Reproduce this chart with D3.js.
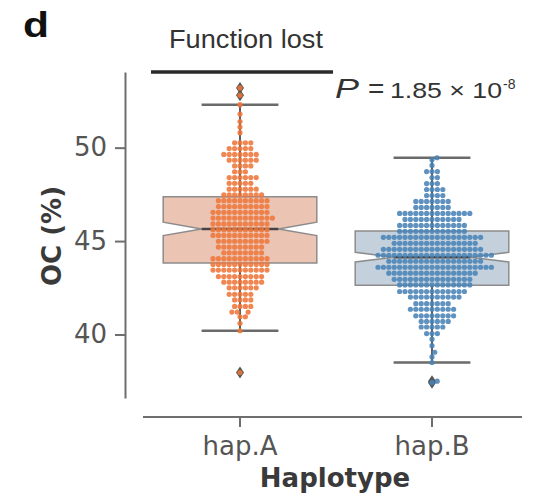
<!DOCTYPE html>
<html>
<head>
<meta charset="utf-8">
<script src="https://cdn.jsdelivr.net/npm/d3@7"></script>
<style>
  body { margin: 0; background: #fff; }
  svg { display: block; }
</style>
</head>
<body>
<svg width="538" height="497"></svg>
<script>
var groups = ["hap.A", "hap.B"];

// OC (%) levels of the swarm rows and how many plants sit in each row
var hapAValues = [40.2, 40.6, 40.95, 41.2, 41.5, 41.85, 42.15, 42.5, 42.8, 43.1, 43.45, 43.75, 44.06, 44.37,
  44.68, 44.99, 45.3, 45.61, 45.92, 46.23, 46.54, 46.85, 47.16, 47.47, 47.78, 48.09, 48.4, 48.71, 49.02, 49.33,
  49.64, 49.95, 50.26, 50.8, 51.1, 51.4, 51.8, 52.3];
var hapACounts = [1, 1, 2, 3, 4, 4, 5, 6, 8, 9, 11, 11, 11, 8,
  9, 10, 11, 11, 11, 12, 11, 10, 10, 8, 6, 5, 6, 3, 4, 6,
  7, 5, 4, 1, 1, 1, 1, 1];

var hapBValues = [38.5, 38.8, 39.05, 39.4, 39.75, 40.05, 40.4, 40.7, 41.0, 41.35, 41.65, 42.0, 42.3, 42.65,
  42.95, 43.28, 43.6, 43.92, 44.24, 44.56, 44.88, 45.2, 45.52, 45.84, 46.16, 46.48, 46.8, 47.12, 47.44, 47.76,
  48.08, 48.4, 48.72, 49.05, 49.35, 49.46];
var hapBCounts = [1, 1, 1, 1, 1, 3, 5, 6, 8, 9, 7, 10, 13, 14,
  15, 17, 22, 18, 22, 19, 16, 19, 13, 13, 11, 14, 7, 7, 4, 4,
  3, 2, 3, 1, 1, 1];

// box stats: [low whisker, Q1, median, Q3, high whisker]
var hapABox = [40.2, 43.82, 45.65, 47.37, 52.3];
var hapBBox = [38.5, 42.63, 44.14, 45.54, 49.46];
var hapAOutliers = [53.2, 52.8, 37.96];
var hapBOutliers = [37.5, 37.42];

var yTicks = [40, 45, 50];
var pointColors = ["#ee763a", "#4a83b6"];
var boxColors = ["#ecc4b4", "#c4d1dd"];

var svg = d3.select("svg");
var y = d3.scaleLinear().domain([36.6, 54.05]).range([398, 72]);
var x = d3.scaleBand().domain(groups).range([144, 528]);
var boxW = x.bandwidth() * 0.8;

var groupData = [
  { name: "hap.A", values: hapAValues, counts: hapACounts, box: hapABox, out: hapAOutliers },
  { name: "hap.B", values: hapBValues, counts: hapBCounts, box: hapBBox, out: hapBOutliers }
];

// expand rows into single points
groupData.forEach(function(g) {
  var pts = [];
  for (var i = 0; i < g.values.length; i++) {
    for (var k = 0; k < g.counts[i]; k++) pts.push(g.values[i]);
  }
  g.out.forEach(function(v) { pts.push(v); });
  pts.sort(function(a, b) { return a - b; });
  g.points = pts;
});

// axes
var yAxis = svg.append("g")
  .attr("transform", "translate(125,0)")
  .call(d3.axisLeft(y).tickValues(yTicks).tickSize(10).tickSizeOuter(0).tickPadding(8));
yAxis.select(".domain").attr("stroke", "#6e6e6e").attr("stroke-width", 2);
yAxis.selectAll(".tick line").attr("stroke", "#6e6e6e").attr("stroke-width", 2);
yAxis.selectAll(".tick text")
  .attr("fill", "#555").style("font-family", "DejaVu Sans").style("font-size", "26px");

var xAxis = svg.append("g")
  .attr("transform", "translate(0,417)")
  .call(d3.axisBottom(x).tickSize(10).tickSizeOuter(0));
xAxis.select(".domain").remove();
xAxis.append("line")
  .attr("x1", x.range()[0] - 1).attr("x2", x.range()[1] - 6)
  .attr("stroke", "#6e6e6e").attr("stroke-width", 2);
xAxis.selectAll(".tick line").attr("stroke", "#6e6e6e").attr("stroke-width", 2);
xAxis.selectAll(".tick text")
  .attr("y", 38).attr("dy", 0)
  .attr("fill", "#555").style("font-family", "DejaVu Sans").style("font-size", "26px");

svg.append("text")
  .attr("transform", "translate(61,236) rotate(-90)")
  .attr("text-anchor", "middle")
  .style("font-family", "DejaVu Sans").style("font-size", "26px").style("font-weight", "bold")
  .attr("fill", "#3a3a3a")
  .text("OC (%)");

svg.append("text")
  .attr("x", 335).attr("y", 487)
  .attr("text-anchor", "middle")
  .style("font-family", "DejaVu Sans").style("font-size", "26px").style("font-weight", "bold")
  .attr("fill", "#3a3a3a")
  .text("Haplotype");

// boxes
groupData.forEach(function(g, gi) {
  var cx = x(g.name) + x.bandwidth() / 2;
  var left = cx - boxW / 2, right = cx + boxW / 2;
  var b = g.box;
  var notch = 1.57 * (b[3] - b[1]) / Math.sqrt(g.points.length);
  var yq1 = y(b[1]), yq3 = y(b[3]), ym = y(b[2]);
  var ynt = y(b[2] + notch), ynb = y(b[2] - notch);
  var inset = boxW / 4;
  var poly = [[left, yq3], [right, yq3], [right, ynt], [right - inset, ym], [right, ynb], [right, yq1],
    [left, yq1], [left, ynb], [left + inset, ym], [left, ynt]];
  var layer = svg.append("g");

  // whiskers
  layer.append("line")
    .attr("x1", cx).attr("x2", cx).attr("y1", yq3).attr("y2", y(b[4]))
    .attr("stroke", "#5e5e5e").attr("stroke-width", 2);
  layer.append("line")
    .attr("x1", cx).attr("x2", cx).attr("y1", yq1).attr("y2", y(b[0]))
    .attr("stroke", "#5e5e5e").attr("stroke-width", 2);
  [b[0], b[4]].forEach(function(v) {
    layer.append("line")
      .attr("x1", cx - boxW / 4).attr("x2", cx + boxW / 4)
      .attr("y1", y(v)).attr("y2", y(v))
      .attr("stroke", "#6a6a6a").attr("stroke-width", 2.5);
  });

  layer.append("path")
    .attr("d", d3.line()(poly) + "Z")
    .attr("fill", boxColors[gi])
    .attr("stroke", "#8c8c8c").attr("stroke-width", 1.5);
  layer.append("line")
    .attr("x1", left + inset).attr("x2", right - inset)
    .attr("y1", ym).attr("y2", ym)
    .attr("stroke", "#444").attr("stroke-width", 2.5);

  // outlier diamonds
  layer.selectAll(".flier").data(g.out).enter().append("path")
    .attr("d", function(v) {
      var yy = y(v);
      return "M" + cx + "," + (yy - 6) + "L" + (cx + 4) + "," + yy + "L" + cx + "," + (yy + 6) + "L" + (cx - 4) + "," + yy + "Z";
    })
    .attr("fill", "#555");
});

// swarm layout
var r = 2.6, dist = 5.4;
groupData.forEach(function(g, gi) {
  var cx = x(g.name) + x.bandwidth() / 2;
  var placed = [];
  g.points.forEach(function(v) {
    var py = y(v);
    var near = placed.filter(function(p) { return Math.abs(p.y - py) < dist; });
    var cands = [0];
    near.forEach(function(p) {
      var dx = Math.sqrt(dist * dist - (p.y - py) * (p.y - py));
      cands.push(p.x + dx, p.x - dx);
    });
    cands.sort(function(a, b) { return Math.abs(a) - Math.abs(b); });
    var best = 0;
    for (var i = 0; i < cands.length; i++) {
      var c = cands[i];
      var ok = near.every(function(p) {
        var dx = p.x - c, dy = p.y - py;
        return dx * dx + dy * dy >= dist * dist - 0.01;
      });
      if (ok) { best = c; break; }
    }
    placed.push({ x: best, y: py });
  });
  svg.append("g").selectAll("circle").data(placed).enter().append("circle")
    .attr("cx", function(p) { return cx + p.x; })
    .attr("cy", function(p) { return p.y; })
    .attr("r", r)
    .attr("fill", pointColors[gi])
    .attr("fill-opacity", 0.88);
});

// annotation
svg.append("text")
  .attr("x", 23).attr("y", 37)
  .style("font-family", "Liberation Sans").style("font-size", "35px").style("font-weight", "bold")
  .attr("fill", "#111")
  .attr("textLength", 26).attr("lengthAdjust", "spacingAndGlyphs")
  .text("d");

svg.append("text")
  .attr("x", 169).attr("y", 48)
  .style("font-family", "Liberation Sans").style("font-size", "25px")
  .attr("fill", "#333")
  .attr("textLength", 154).attr("lengthAdjust", "spacingAndGlyphs")
  .text("Function lost");

svg.append("line")
  .attr("x1", 151).attr("x2", 333).attr("y1", 72).attr("y2", 72)
  .attr("stroke", "#2a2a2a").attr("stroke-width", 3.5);

svg.append("text")
  .attr("x", 335).attr("y", 98)
  .style("font-family", "Liberation Sans").style("font-size", "28px").style("font-style", "italic")
  .attr("fill", "#333")
  .attr("textLength", 24).attr("lengthAdjust", "spacingAndGlyphs")
  .text("P");
svg.append("text")
  .attr("x", 368).attr("y", 98)
  .style("font-family", "Liberation Sans").style("font-size", "28px")
  .attr("fill", "#333")
  .text("=");
svg.append("text")
  .attr("x", 390).attr("y", 98)
  .style("font-family", "Liberation Sans").style("font-size", "22px")
  .attr("fill", "#333")
  .attr("textLength", 112).attr("lengthAdjust", "spacingAndGlyphs")
  .text("1.85 × 10");
svg.append("text")
  .attr("x", 503).attr("y", 89)
  .style("font-family", "Liberation Sans").style("font-size", "14px")
  .attr("fill", "#333")
  .text("-8");
</script>
</body>
</html>
